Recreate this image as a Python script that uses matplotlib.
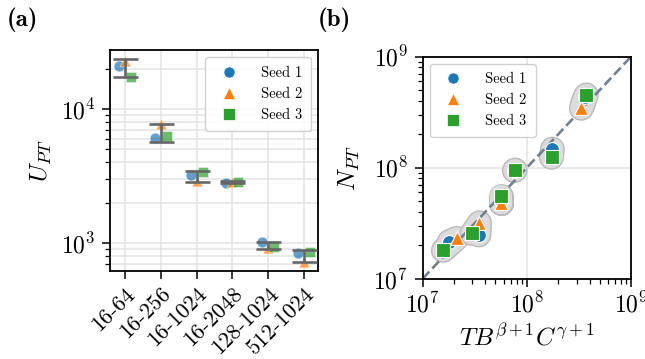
import numpy as np
import matplotlib.pyplot as plt
from matplotlib.lines import Line2D
from matplotlib.ticker import NullFormatter
import matplotlib.patheffects as pe

plt.rcParams.update({
    'font.family': 'cmr10',
    'mathtext.fontset': 'cm',
    'axes.formatter.use_mathtext': True,
    'axes.unicode_minus': False,
    'axes.linewidth': 1.3,
    'xtick.major.size': 6, 'ytick.major.size': 6,
    'xtick.minor.size': 3.5, 'ytick.minor.size': 3.5,
    'xtick.major.width': 1.1, 'ytick.major.width': 1.1,
    'xtick.minor.width': 0.9, 'ytick.minor.width': 0.9,
    'xtick.labelsize': 17, 'ytick.labelsize': 17,
    'ytick.major.pad': 4.5,
})

configs = ['16-64', '16-256', '16-1024', '16-2048', '128-1024', '512-1024']
seeds = ['Seed 1', 'Seed 2', 'Seed 3']
colors = ['#1f77b4', '#ff7f0e', '#2ca02c']
markers = ['o', '^', 's']

# U_PT per seed for each config
u_seed1 = [21050, 6100, 3220, 2780, 1022, 838]
u_seed2 = [22650, 7780, 2880, 2870, 918, 721]
u_seed3 = [17420, 6320, 3370, 2860, 938, 852]

# N_PT against T B^(beta+1) C^(gamma+1)
tbc_seed1 = [1.80e7, 3.47e7, 5.70e7, 7.60e7, 1.76e8, 3.60e8]
tbc_seed2 = [2.12e7, 3.51e7, 5.70e7, 7.70e7, 1.72e8, 3.34e8]
tbc_seed3 = [1.58e7, 2.98e7, 5.70e7, 7.71e7, 1.73e8, 3.73e8]
npt_seed1 = [2.15e7, 2.48e7, 5.10e7, 9.40e7, 1.47e8, 4.30e8]
npt_seed2 = [2.31e7, 3.19e7, 4.80e7, 9.50e7, 1.24e8, 3.43e8]
npt_seed3 = [1.80e7, 2.56e7, 5.56e7, 9.53e7, 1.26e8, 4.52e8]

U = np.array([u_seed1, u_seed2, u_seed3])
X = np.array([tbc_seed1, tbc_seed2, tbc_seed3])
Y = np.array([npt_seed1, npt_seed2, npt_seed3])

fig = plt.figure(figsize=(6.45, 3.59), dpi=100)
ax1 = fig.add_axes([0.1705, 0.246, 0.323, 0.6147])
ax2 = fig.add_axes([0.6553, 0.2237, 0.323, 0.6184])

# (a) U_PT per config
pos = np.arange(len(configs))
dodge = 0.17
for i in range(3):
    ax1.scatter(pos + (i - 1) * dodge, U[i], marker=markers[i], s=60,
                color=colors[i], alpha=0.7, edgecolor='white',
                linewidth=0.4, zorder=3)
mean = U.mean(axis=0)
ci = 1.96 * U.std(axis=0, ddof=1) / np.sqrt(U.shape[0])
ax1.errorbar(pos, mean, yerr=ci, fmt='none', ecolor='#666666',
             elinewidth=1.9, capsize=9, capthick=1.9, zorder=4)
ax1.set_yscale('log')
ax1.set_ylim(621, 27540)
ax1.set_xlim(-0.42, 5.40)
ax1.set_xticks(pos)
ax1.set_xticklabels(configs, rotation=45, ha='right', va='top',
                    rotation_mode='anchor', fontsize=16)
ax1.yaxis.set_minor_formatter(NullFormatter())
ax1.grid(True, which='both', color='#e3e3e3', linewidth=1.1, zorder=0)
ax1.set_axisbelow(True)
ax1.set_ylabel(r'$U_{PT}$', fontsize=18, labelpad=5)

# (b) N_PT vs T B^(beta+1) C^(gamma+1)
for j in range(X.shape[1]):
    ax2.plot(X[:, j], Y[:, j], color='#dcdcdc', lw=16,
             solid_capstyle='round', solid_joinstyle='round', zorder=1,
             path_effects=[pe.Stroke(linewidth=18, foreground='#bababa'),
                           pe.Normal()])
ax2.plot([1e7, 1e9], [1e7, 1e9], ls='--', color='#708090', lw=1.9, zorder=2)
for i in range(3):
    ax2.scatter(X[i], Y[i], marker=markers[i], s=100, color=colors[i],
                edgecolor='white', linewidth=0.8, zorder=3)
ax2.set_xscale('log')
ax2.set_yscale('log')
ax2.set_xlim(1e7, 1e9)
ax2.set_ylim(1e7, 1e9)
ax2.xaxis.set_minor_formatter(NullFormatter())
ax2.yaxis.set_minor_formatter(NullFormatter())
ax2.grid(True, which='major', color='#e3e3e3', linewidth=1.1, zorder=0)
ax2.set_axisbelow(True)
ax2.set_xlabel(r'$TB^{\beta+1}C^{\gamma+1}$', fontsize=18)
ax2.set_ylabel(r'$N_{PT}$', fontsize=18, labelpad=8)

handles = [Line2D([], [], ls='none', marker=markers[i], color=colors[i],
                  markersize=8, markeredgecolor='white', markeredgewidth=0.5)
           for i in range(3)]
leg_kw = dict(fontsize=10.5, handletextpad=1.2, borderpad=0.6,
              edgecolor='#cccccc', framealpha=0.9)
ax1.legend(handles, seeds, loc='upper right', **leg_kw)
ax2.legend(handles, seeds, loc='upper left', **leg_kw)

fig.text(0.010, 0.928, '(a)', fontfamily='cmb10', fontsize=18)
fig.text(0.492, 0.928, '(b)', fontfamily='cmb10', fontsize=18)

fig.savefig('out.png', dpi=100)
